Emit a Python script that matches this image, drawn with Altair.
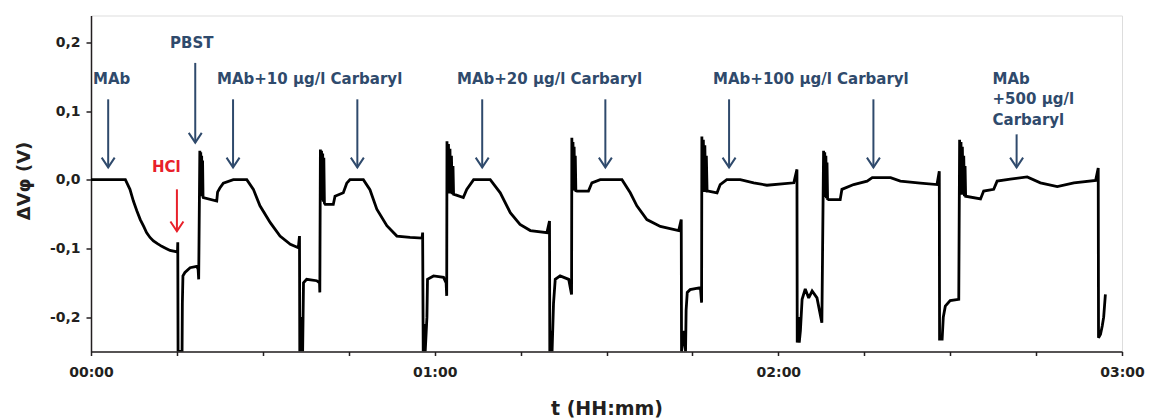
import altair as alt
import pandas as pd

# ---- signal trace (time in minutes, ΔVφ in volts), written cycle by cycle ----
t_c1 = [0.0, 6.0, 6.8, 7.4, 8.0, 8.6, 9.2, 9.7, 10.3, 10.9, 11.6, 12.35, 13.1, 13.8, 15.0, 15.1,
        15.15, 15.2, 15.9, 15.95,
        16.05, 16.4, 17.3, 18.46, 18.7, 18.8,
        19.0, 19.08, 19.16, 19.24, 19.32, 19.40, 19.48, 19.56, 19.6, 21.95, 22.1,
        22.5, 23.1, 24.85, 27.2, 28.35, 29.5, 31.3, 33.0, 34.8, 36.2]
v_c1 = [0, 0, -0.014, -0.031, -0.045, -0.058, -0.068, -0.077, -0.084, -0.089, -0.093, -0.097, -0.1,
        -0.103, -0.105, -0.106,
        -0.091, -0.25, -0.25, -0.18,
        -0.14, -0.135, -0.128, -0.126, -0.13, -0.145,
        0.042, -0.02, 0.04, -0.022, 0.035, -0.024, 0.028, -0.025, -0.026, -0.031, -0.018,
        -0.012, -0.005, 0, 0, -0.014, -0.038, -0.0625, -0.082, -0.094, -0.099]

t_c2 = [36.4, 36.45, 36.6, 36.7, 36.85, 36.95, 37.1, 37.65, 39.4, 39.9, 39.95,
        40.05, 40.15, 40.25, 40.35, 40.45, 40.55, 40.65, 40.75, 40.9, 42.3, 42.6,
        44.05, 44.65, 45.2, 47.55, 48.7, 49.9, 51.65, 53.4, 55.7, 57.8]
v_c2 = [-0.082, -0.25, -0.2, -0.25, -0.22, -0.25, -0.15, -0.145, -0.147, -0.15, -0.164,
        0.044, -0.03, 0.042, -0.03, 0.038, -0.032, 0.032, -0.034, -0.036, -0.036, -0.024,
        -0.019, -0.005, 0, 0, -0.0145, -0.043, -0.067, -0.082, -0.084, -0.085]

t_c3 = [57.9, 58.0, 58.15, 58.35, 58.65, 58.75, 59.8, 61.55, 62.0, 62.1,
        62.15, 62.28, 62.41, 62.54, 62.67, 62.8, 62.93, 63.06, 63.2, 63.3, 65.0, 65.6, 66.8,
        69.7, 71.45, 73.2, 74.9, 76.7, 79.6]
v_c3 = [-0.077, -0.25, -0.21, -0.25, -0.2, -0.145, -0.14, -0.142, -0.15, -0.169,
        0.056, -0.02, 0.052, -0.02, 0.045, -0.02, 0.035, -0.021, 0.02, -0.021, -0.026, -0.014, 0,
        0, -0.019, -0.048, -0.065, -0.074, -0.077]

t_c4 = [80.05, 80.1, 80.35, 80.5, 80.75, 81.05, 81.9, 83.4, 83.9,
        83.95, 84.05, 84.15, 84.25, 84.35, 84.45, 84.55, 84.65, 84.85, 86.85, 87.45, 88.9, 92.7,
        94.15, 95.3, 97.05, 99.4, 102.6]
v_c4 = [-0.06, -0.25, -0.22, -0.25, -0.18, -0.145, -0.14, -0.145, -0.167,
        0.061, -0.015, 0.055, -0.015, 0.048, -0.016, 0.035, -0.016, -0.0165, -0.0165, -0.0045, 0, 0,
        -0.019, -0.038, -0.058, -0.068, -0.074]

t_c5 = [103.05, 103.1, 103.6, 103.8, 103.9, 104.1, 104.6, 106.4, 106.6,
        106.65, 106.78, 106.91, 107.04, 107.17, 107.3, 107.43, 107.56, 107.8, 109.3, 109.85, 111.0,
        113.35, 115.7, 118.0, 122.7]
v_c5 = [-0.058, -0.25, -0.22, -0.25, -0.19, -0.164, -0.16, -0.157, -0.179,
        0.063, -0.018, 0.058, -0.018, 0.05, -0.018, 0.035, -0.0165, -0.0165, -0.019, -0.007, 0,
        0, -0.0045, -0.008, -0.0045]

t_c6 = [123.25, 123.3, 123.55, 123.65, 123.85, 124.15, 124.7, 125.3, 125.9, 126.75, 127.6,
        127.9, 128.0, 128.1, 128.2, 128.3, 128.4, 128.5, 128.6, 128.8, 130.8, 131.1, 133.15, 135.5,
        136.4, 139.6, 141.3, 144.8, 147.7]
v_c6 = [0.015, -0.237, -0.2, -0.237, -0.22, -0.174, -0.159, -0.172, -0.162, -0.172, -0.208,
        0.042, -0.025, 0.04, -0.025, 0.035, -0.027, 0.025, -0.028, -0.029, -0.029, -0.014, -0.007, -0.002,
        0.003, 0.003, -0.002, -0.005, -0.007]

t_c7 = [148.1, 148.15, 148.6, 148.8, 149.15, 150.0, 151.5,
        151.65, 151.77, 151.89, 152.01, 152.13, 152.25, 152.37, 152.49, 152.6, 152.7, 155.3, 155.85,
        157.6, 158.2, 160.5, 163.45, 165.75, 168.7, 171.6, 175.4,
        175.85, 175.9, 176.25, 176.55, 176.8, 177.1]
v_c7 = [0.0125, -0.232, -0.232, -0.2, -0.184, -0.176, -0.174,
        0.058, -0.02, 0.055, -0.022, 0.048, -0.022, 0.035, -0.024, 0.02, -0.024, -0.028, -0.0165,
        -0.014, -0.002, 0.001, 0.004, -0.0045, -0.01, -0.0045, -0.001,
        0.017, -0.23, -0.225, -0.213, -0.2, -0.167]

# ---- annotation arrows ----
arrow_t = [3.0, 18.2, 24.8, 46.5, 68.3, 89.8, 111.4, 136.6, 161.6, 15.0]
arrow_from = [0.117, 0.17, 0.117, 0.117, 0.117, 0.117, 0.117, 0.117, 0.066, -0.014]
arrow_to = [0.018, 0.054, 0.018, 0.018, 0.018, 0.018, 0.018, 0.018, 0.018, -0.075]
arrow_kind = ["blue"] * 9 + ["red"]

# ---- annotation labels ----
label_text = ["MAb", "PBST", "MAb+10 µg/l Carbaryl", "MAb+20 µg/l Carbaryl",
              "MAb+100 µg/l Carbaryl", "MAb", "+500 µg/l", "Carbaryl", "HCl"]
label_t = [0.35, 13.8, 22.0, 63.9, 108.6, 157.4, 157.4, 157.4, 10.65]
label_v = [0.146, 0.199, 0.146, 0.146, 0.146, 0.146, 0.117, 0.087, 0.018]
label_kind = ["blue"] * 8 + ["red"]

BLUE = "#2f4a6c"
RED = "#e8202a"
INK = "#231f20"
FONT = "DejaVu Sans"

t_min = t_c1 + t_c2 + t_c3 + t_c4 + t_c5 + t_c6 + t_c7
dv = v_c1 + v_c2 + v_c3 + v_c4 + v_c5 + v_c6 + v_c7
trace = pd.DataFrame({"t": t_min, "v": dv, "i": list(range(len(t_min)))})
arrows = pd.DataFrame({"t": arrow_t, "v1": arrow_from, "v2": arrow_to, "kind": arrow_kind})
labels = pd.DataFrame({"t": label_t, "v": label_v, "txt": label_text, "kind": label_kind})

xscale = alt.Scale(domain=[0, 180], nice=False, zero=False)
yscale = alt.Scale(domain=[-0.25, 0.239], nice=False, zero=False)
cscale = alt.Scale(domain=["blue", "red"], range=[BLUE, RED])

x_axis = alt.Axis(
    values=list(range(0, 181, 15)),
    labelExpr="datum.value % 60 == 0 ? '0' + (datum.value / 60) + ':00' : ''",
    title="t (HH:mm)", grid=False, tickSize=4, tickColor=INK, tickWidth=1.5,
    domainColor=INK, domainWidth=1.5, labelFont=FONT, labelFontSize=14, labelFontWeight="bold",
    labelColor=INK, labelPadding=10, labelOffset=0, labelFlush=False, labelOverlap=False,
    titleFont=FONT, titleFontSize=19, titleFontWeight="bold", titleColor=INK,
    titleY=63, titleBaseline="alphabetic",
)
y_axis = alt.Axis(
    values=[-0.2, -0.1, 0.0, 0.1, 0.2],
    labelExpr="(datum.value < -0.0001 ? '-' : '') + replace(format(abs(datum.value), '.1f'), '.', ',')",
    title="ΔVφ (V)", grid=False, tickSize=5, tickColor=INK, tickWidth=1.5,
    domainColor=INK, domainWidth=1.5, labelFont=FONT, labelFontSize=14, labelFontWeight="bold",
    labelColor=INK, labelPadding=6,
    titleFont=FONT, titleFontSize=18, titleFontWeight="bold", titleColor=INK,
    titleAngle=-90, titleX=-67, titleY=165, titleAlign="center", titleBaseline="middle",
)

line = alt.Chart(trace).mark_line(color="black", strokeWidth=2.8, clip=True,
                                   strokeJoin="miter", strokeMiterLimit=2).encode(
    x=alt.X("t:Q", scale=xscale, axis=x_axis),
    y=alt.Y("v:Q", scale=yscale, axis=y_axis),
    order="i:Q",
)

shafts = alt.Chart(arrows).mark_rule(strokeWidth=2).encode(
    x="t:Q", y="v1:Q", y2="v2:Q",
    color=alt.Color("kind:N", scale=cscale, legend=None),
)

heads = alt.Chart(arrows).mark_point(
    shape="M -1 -1.5 L 0 0 L 1 -1.5", filled=False, strokeWidth=2, size=169, opacity=1,
).encode(
    x="t:Q", y="v2:Q",
    color=alt.Color("kind:N", scale=cscale, legend=None),
)

texts = alt.Chart(labels).mark_text(
    align="left", baseline="middle", font=FONT, fontSize=15, fontWeight="bold",
).encode(
    x="t:Q", y="v:Q", text="txt:N",
    color=alt.Color("kind:N", scale=cscale, legend=None),
)

chart = alt.layer(line, shafts, heads, texts).properties(
    width=1031, height=336,
    autosize=alt.AutoSizeParams(type="none"),
    padding={"left": 83, "top": 7.5, "right": 23, "bottom": 66},
).configure_view(stroke=INK, strokeWidth=1.5).configure(background="white")

chart.save("out.html", embed_options={"renderer": "svg", "actions": False})
